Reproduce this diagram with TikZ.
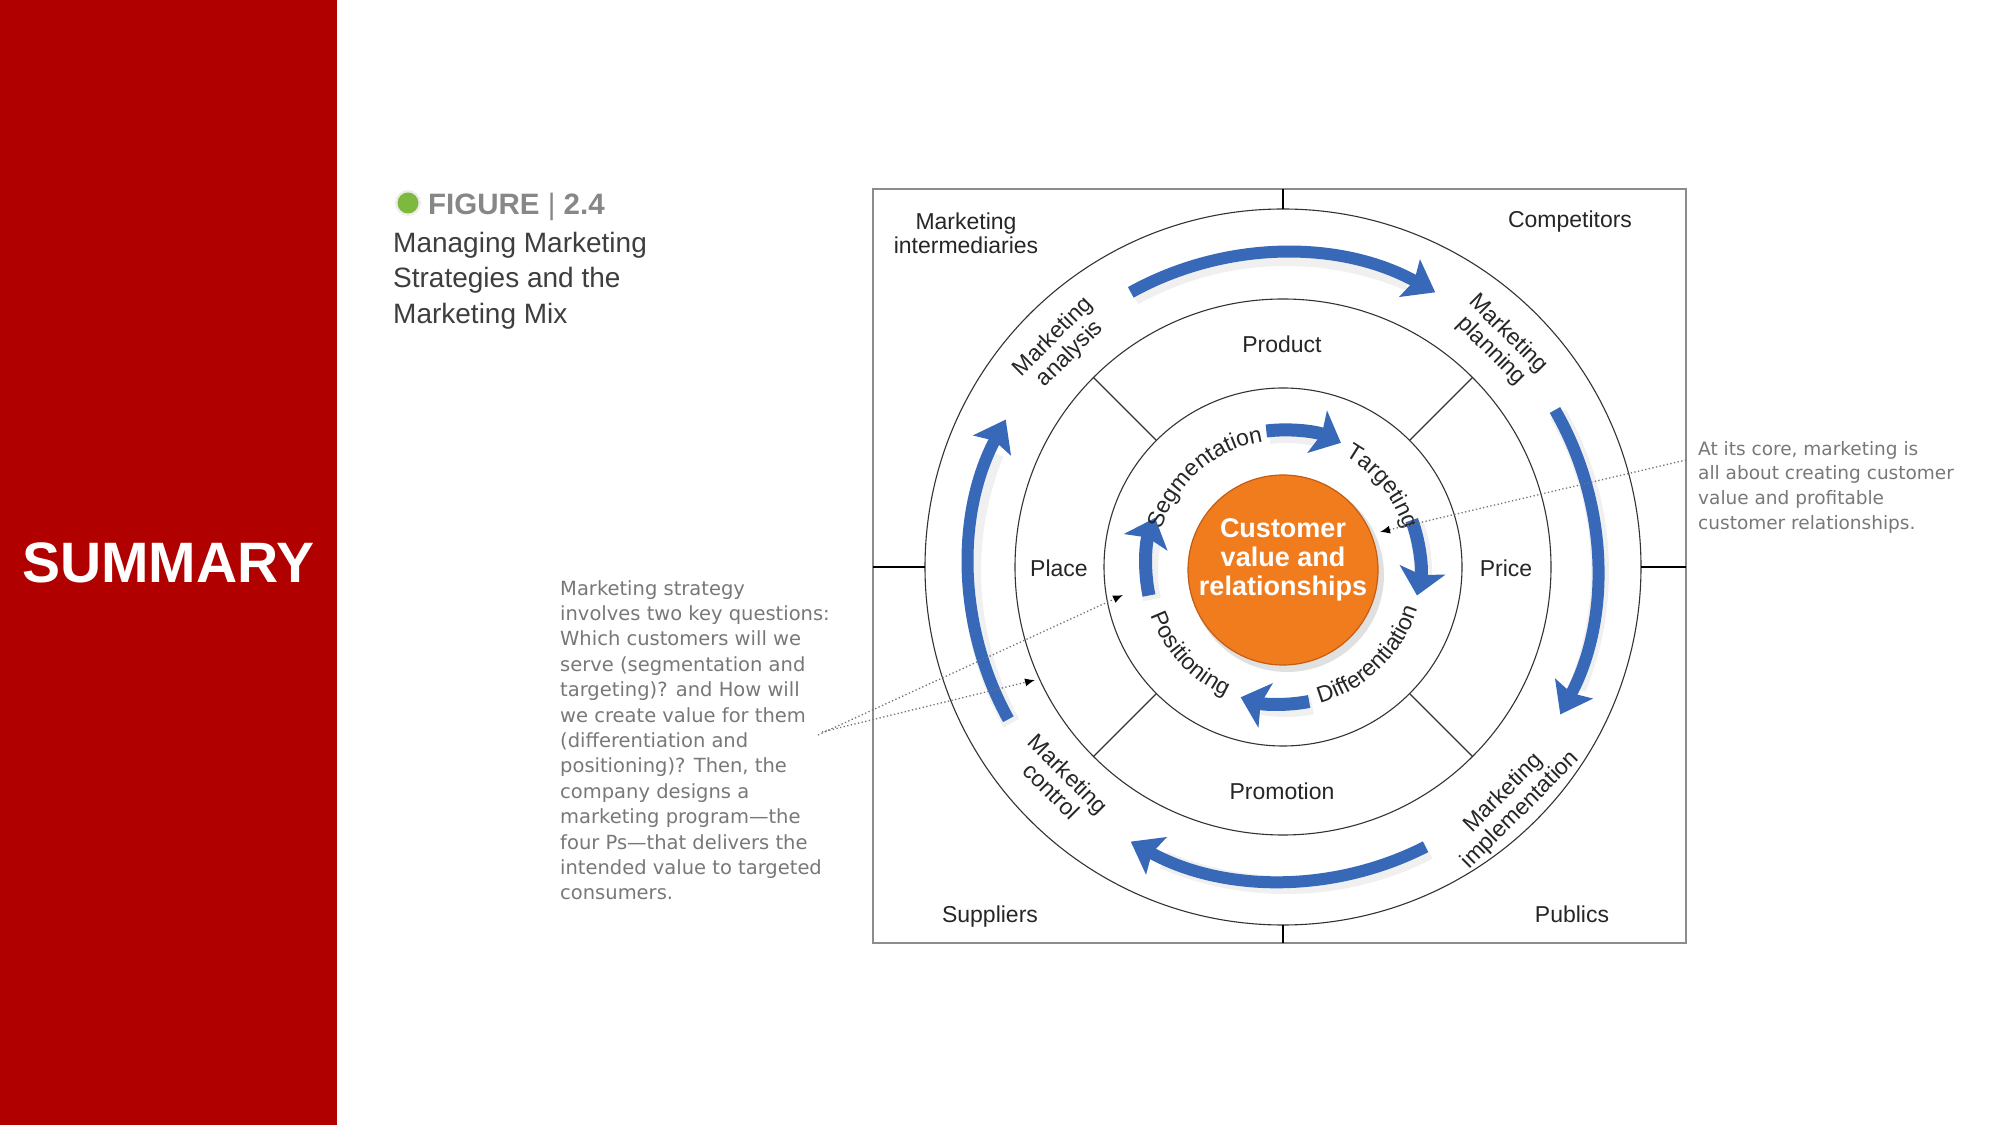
\documentclass[tikz,border=0pt]{standalone}
\usepackage{fontspec}
\setmainfont{Liberation Sans}
\newfontfamily\notefont{DejaVu Sans}
\usetikzlibrary{arrows.meta,decorations.text,calc}
\definecolor{sumred}{RGB}{176,0,0}
\definecolor{mblue}{RGB}{56,104,184}
\definecolor{morange}{RGB}{240,124,30}
\definecolor{morangedark}{RGB}{196,92,18}
\definecolor{figgray}{RGB}{135,135,135}
\definecolor{titlegray}{RGB}{62,62,62}
\definecolor{notegray}{RGB}{120,120,120}
\definecolor{figgreen}{RGB}{125,185,60}
\newcommand{\fsz}[2]{\fontsize{#1}{#2}\selectfont}
\newcommand{\ringfont}{\fontsize{23}{23}\selectfont}
\begin{document}
\begin{tikzpicture}[x=1pt,y=1pt,
  lbl/.style={font=\fsz{23}{24}, text=black!85, inner sep=0pt, align=center},
  ringline/.style={line width=1.1pt, draw=black!80},
  outarrow/.style={line width=12pt, draw=mblue, -{Stealth[length=29pt,width=42pt,inset=5pt,color=mblue]}},
  inarrow/.style={line width=13pt, draw=mblue, -{Stealth[length=26pt,width=46pt,inset=5pt,color=mblue]}},
  arcshadow/.style={line width=18pt, draw=black, opacity=0.06},
  notedots/.style={line width=1.3pt, draw=black!55, dash pattern=on 1.3pt off 2.4pt, -{Latex[length=10pt,width=8pt,color=black]}},
  ringtext/.style={decorate, decoration={text along path, text align=center, text color=black!85}}
]
\useasboundingbox (0,0) rectangle (2000,1125);
\fill[white] (0,0) rectangle (2000,1125);

% sidebar
\fill[sumred] (0,0) rectangle (337,1125);
\node[anchor=base, text=white, font=\bfseries\fsz{57}{57}, inner sep=0pt] (summary) at (168.5,542) {SUMMARY};

% figure caption
\fill[black!7] (408,922) circle (13);
\fill[figgreen] (408,922) circle (10.5);
\node[anchor=base west, inner sep=0pt, text=figgray, font=\fsz{29.5}{29.5}] (fig) at (428,910) {\textbf{FIGURE} | \textbf{2.4}};
\node[anchor=north west, inner sep=0pt, font=\fsz{28}{35.5}, text=titlegray, align=left] (figtitle) at (393,893) {Managing Marketing\\Strategies and the\\Marketing Mix};

% frame
\coordinate (bsw) at (873,182);
\coordinate (bne) at (1686,936);
\draw[black!45, line width=1.5pt] (bsw) rectangle (bne);
\coordinate (C) at (1283,558);
\coordinate (O) at (1283,555);

% circles
\draw[ringline] (C) circle (358);
\draw[ringline] (C) circle (268);
\draw[ringline] (C) circle (179);
\foreach \a in {45,135,225,315}
  \draw[ringline] ([shift={(\a:179)}]C) -- ([shift={(\a:268)}]C);

% ticks
\draw[line width=2.5pt] (1283,936) -- (1283,916);
\draw[line width=2.5pt] (1283,182) -- (1283,200);
\draw[line width=2.5pt] (873,558) -- (925,558);
\draw[line width=2.5pt] (1641,558) -- (1686,558);

% core
\fill[black, opacity=0.12] (1287,550) circle (97);
\draw[fill=morange, draw=morangedark, line width=1.2pt] (O) circle (95);
\node[font=\bfseries\fsz{27}{29}, text=white, align=center, inner sep=0pt] (core) at (1283,565) {Customer\\value and\\relationships};

% outer blue arrows
\foreach \s/\e in {119/61, 30/-28, -63/-119, 209/152} {
  \draw[arcshadow] ([shift={(\s:314)}]C) ++(3,-4) arc[start angle=\s, end angle=\e+6, radius=314];
  \draw[outarrow] ([shift={(\s:314)}]C) arc[start angle=\s, end angle=\e, radius=314];
}

% inner blue arrows
\foreach \s/\e in {97/65, 20/-12, -79/-108, 192/159} {
  \draw[arcshadow] ([shift={(\s:137)}]C) ++(3,-4) arc[start angle=\s, end angle=\e+8, radius=137];
  \draw[inarrow] ([shift={(\s:137)}]C) arc[start angle=\s, end angle=\e, radius=137];
}

% inner ring texts
\path[ringtext, decoration={text={|\ringfont|Segmentation}}] ([shift={(166:127)}]C) arc[start angle=166, end angle=96, radius=127];
\path[ringtext, decoration={text={|\ringfont|Targeting}}] ([shift={(66:127)}]C) arc[start angle=66, end angle=12, radius=127];
\path[ringtext, decoration={text={|\ringfont|Differentiation}}] ([shift={(-85:141)}]C) arc[start angle=-85, end angle=-7, radius=141];
\path[ringtext, decoration={text={|\ringfont|Positioning}}] ([shift={(188:141)}]C) arc[start angle=188, end angle=258, radius=141];

% four Ps
\node[lbl, anchor=base] (product) at (1282,772) {Product};
\node[lbl, anchor=base] (place) at (1059,548) {Place};
\node[lbl, anchor=base] (price) at (1506,548) {Price};
\node[lbl, anchor=base] (promotion) at (1282,325) {Promotion};

% outer ring labels
\node[lbl, rotate=45] (analysis) at ([shift={(135:313)}]C) {Marketing\\analysis};
\node[lbl, rotate=-45] (planning) at ([shift={(46:312)}]C) {Marketing\\planning};
\node[lbl, rotate=45] (implementation) at ([shift={(-45.7:328)}]C) {Marketing\\implementation};
\node[lbl, rotate=-45] (control) at ([shift={(-136:310)}]C) {Marketing\\control};

% environment labels
\node[lbl] (intermediaries) at (966,892) {Marketing\\intermediaries};
\node[lbl, anchor=base] (competitors) at (1570,897) {Competitors};
\node[lbl, anchor=base] (suppliers) at (990,202) {Suppliers};
\node[lbl, anchor=base] (publics) at (1572,202) {Publics};

% annotations
\node[anchor=north west, inner sep=0pt, font=\notefont\fsz{18.5}{24.6}, text=notegray, align=left] (noteR) at (1698,684)
  {At its core, marketing is\\all about creating customer\\value and profitable\\customer relationships.};
\node[anchor=north west, inner sep=0pt, font=\notefont\fsz{19.5}{25.4}, text=notegray, align=left] (noteL) at (560,545)
  {Marketing strategy\\involves two key questions:\\Which customers will we\\serve (segmentation and\\targeting)? and How will\\we create value for them\\(differentiation and\\positioning)? Then, the\\company designs a\\marketing program—the\\four Ps—that delivers the\\intended value to targeted\\consumers.};

\coordinate (pR) at (1686,665);
\coordinate (tR) at (1380,593);
\coordinate (pL1) at (818,390);
\coordinate (tL1) at (1123,530);
\coordinate (pL2) at (822,393);
\coordinate (tL2) at (1035,445);
\draw[notedots] (pR) -- (tR);
\draw[notedots] (pL1) -- (tL1);
\draw[notedots] (pL2) -- (tL2);
\end{tikzpicture}
\end{document}
